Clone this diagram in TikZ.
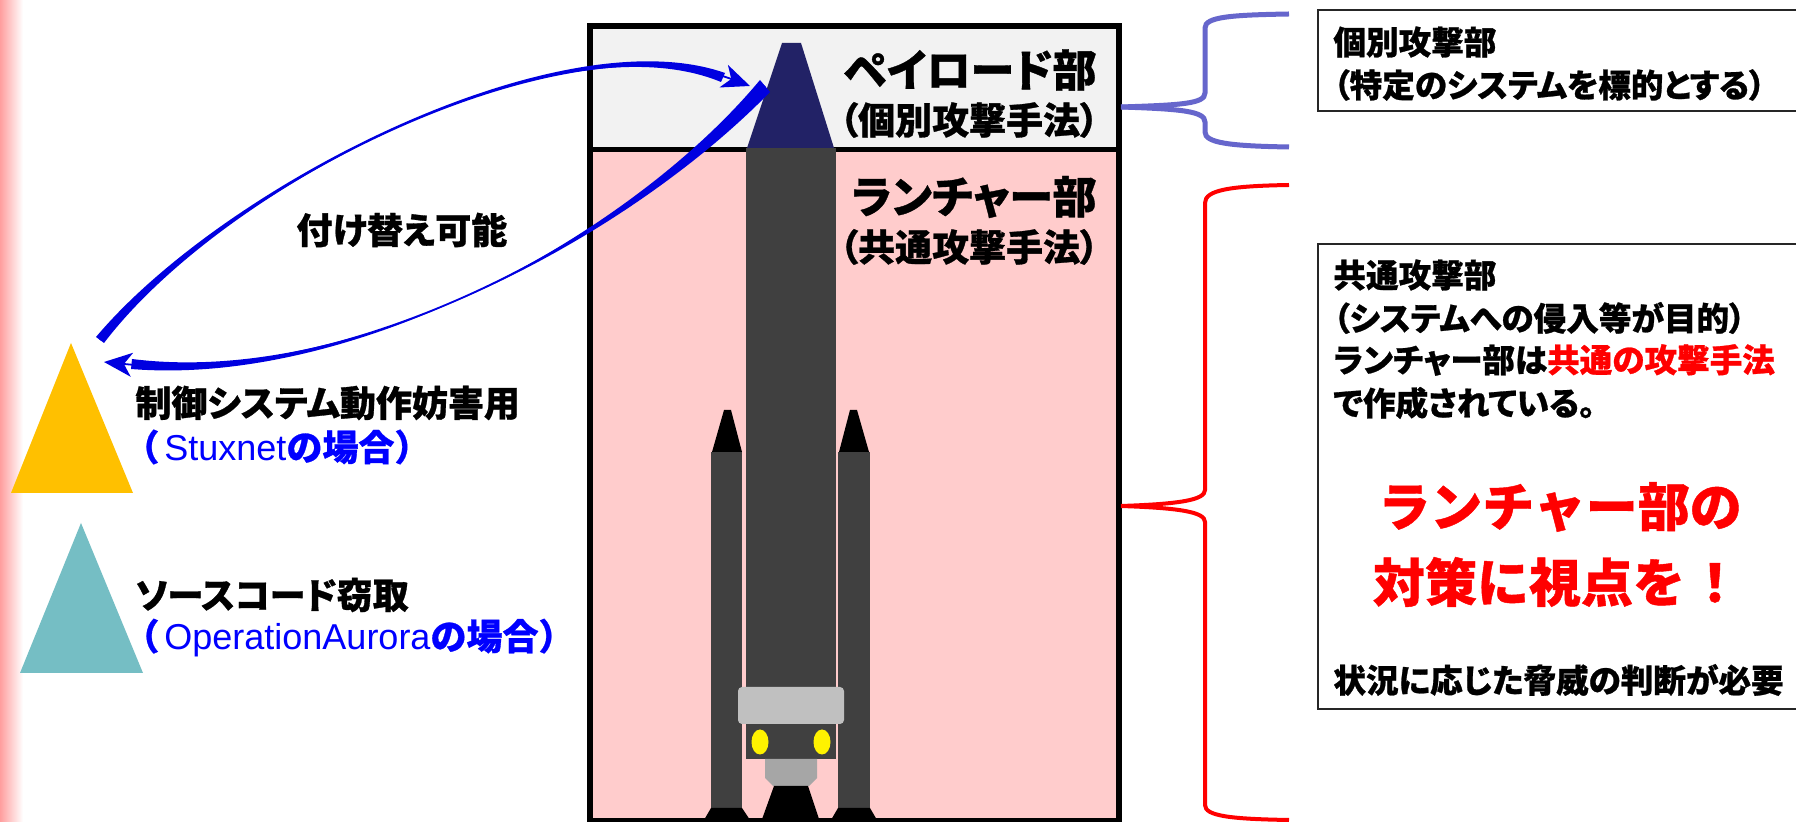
\documentclass[tikz,border=0pt]{standalone}
\usepackage{fontspec}
\usepackage{xcolor}
\setmainfont{Liberation Sans}
\newfontfamily\jp{Noto Sans CJK JP}[RawFeature=+palt, BoldFeatures={FakeBold=0.8}]
\newfontfamily\jpw{Noto Sans CJK JP}[BoldFeatures={FakeBold=0.8}]
\newfontfamily\lat{Liberation Sans}
\usetikzlibrary{arrows.meta}

\definecolor{payfill}{HTML}{F2F2F2}
\definecolor{launchfill}{HTML}{FFCCCC}
\definecolor{conenavy}{HTML}{222266}
\definecolor{bodygray}{HTML}{404040}
\definecolor{bandgray}{HTML}{C0C0C0}
\definecolor{nozzlegray}{HTML}{A6A6A6}
\definecolor{stuxgold}{HTML}{FFC000}
\definecolor{auroteal}{HTML}{75BEC4}
\definecolor{braceblue}{HTML}{6666CC}
\definecolor{edgepink}{HTML}{FF9E9E}
\definecolor{swapblue}{HTML}{0000E0}

\tikzset{
	jptext/.style={inner sep=0pt, font=\jp\bfseries\fontsize{18pt}{22pt}\selectfont},
	parttitle/.style={inner sep=0pt, anchor=east, font=\jp\bfseries\fontsize{22pt}{26pt}\selectfont},
	partsub/.style={inner sep=0pt, anchor=east, font=\jp\bfseries\fontsize{18.5pt}{22pt}\selectfont},
	notetext/.style={inner sep=0pt, anchor=west, font=\jp\bfseries\fontsize{16.3pt}{20pt}\selectfont},
	bigred/.style={inner sep=0pt, text=red, font=\jpw\bfseries\fontsize{26pt}{30pt}\selectfont},
	notebox/.style={draw=black!85, line width=0.8pt, fill=white, inner sep=0pt, anchor=north west},
	swaparrow/.style={draw=swapblue, line width=0.9pt, -{Stealth[length=14pt, width=12pt, inset=4pt]}},
}

\begin{document}
\begin{tikzpicture}[x=0.5pt,y=-0.5pt]
	\useasboundingbox (0,0) rectangle (1796,822);
	\fill[white] (0,0) rectangle (1796,822);
	\shade[left color=edgepink, right color=white] (0,0) rectangle (23,822);

	\fill[payfill] (590,26) rectangle (1119,150);
	\fill[launchfill] (590,150) rectangle (1119,822);
	\draw[line width=3pt] (590,26) rectangle (1119,821);
	\draw[line width=2.5pt] (590,150) -- (1119,150);

	\fill[bodygray] (711,452) rectangle (742,808);
	\fill[black] (712,452) -- (724,410) -- (731,410) -- (742,452) -- cycle;
	\fill[black] (711,808) -- (742,808) -- (750,820) -- (704,820) -- cycle;
	\fill[bodygray] (838,452) rectangle (870,808);
	\fill[black] (839,452) -- (850,410) -- (857,410) -- (869,452) -- cycle;
	\fill[black] (838,808) -- (870,808) -- (877,820) -- (831,820) -- cycle;

	\fill[bodygray] (746,148) rectangle (836,759);
	\fill[conenavy] (747,148) -- (782,43) -- (801,43) -- (834,148) -- cycle;
	\fill[bandgray, rounded corners=2pt] (738,687) rectangle (844,724);
	\fill[yellow] (760,742) ellipse [x radius=4.25pt, y radius=6.25pt];
	\fill[yellow] (822,742) ellipse [x radius=4.25pt, y radius=6.25pt];
	\fill[nozzlegray] (765,759) -- (817,759) -- (817,778) -- (809,786) -- (773,786) -- (765,778) -- cycle;
	\fill[black] (774,786) -- (808,786) -- (820,822) -- (761,822) -- cycle;

	\node[parttitle] (payload) at (1097,70) {ペイロード部};
	\node[partsub] (payloadsub) at (1099,120) {（個別攻撃手法）};
	\node[parttitle] (launcher) at (1097,197) {ランチャー部};
	\node[partsub] (launchersub) at (1099,247) {（共通攻撃手法）};

	\fill[stuxgold] (11,493) -- (71,343) -- (133,493) -- cycle;
	\fill[auroteal] (20,673) -- (81,523) -- (143,673) -- cycle;

	\node[jptext, anchor=west] (stuxname) at (135,403) {制御システム動作妨害用};
	\node[jptext, anchor=west, text=blue] (stuxcase) at (123,447) {\jpw（\hspace{2.5pt}{\lat\mdseries Stuxnet}の場合）};
	\node[jptext, anchor=west] (auroname) at (135,595) {ソースコード窃取};
	\node[jptext, anchor=west, text=blue] (aurocase) at (123,638) {\jpw（\hspace{2.5pt}{\lat\mdseries OperationAurora}の場合）};
	\node[jptext, anchor=west] (swap) at (296,230) {付け替え可能};

	\coordinate (stuxtop) at (100,340);
	\coordinate (conein) at (750,86);
	\coordinate (coneout) at (765,86);
	\coordinate (stuxin) at (104,362);
	\draw[swaparrow] (stuxtop) .. controls (225,184) and (560,15) .. (conein);
	\fill[swapblue] (104,343) .. controls (225,184) and (560,15) .. (721,82) -- (725,73) .. controls (560,15) and (225,184) .. (96,337) -- cycle;
	\draw[swaparrow] (coneout) .. controls (631,235) and (354,387) .. (stuxin);
	\fill[swapblue] (770,92) .. controls (631,235) and (354,387) .. (132,359) -- (131,369) .. controls (354,387) and (631,235) .. (760,80) -- cycle;

	\draw[braceblue, line width=2.5pt] (1121,107) .. controls (1180,105) and (1205,104) .. (1205,93) -- (1205,28) .. controls (1205,17) and (1230,15) .. (1289,14);
	\draw[braceblue, line width=2.5pt] (1121,107) .. controls (1180,109) and (1205,111) .. (1205,122) -- (1205,132) .. controls (1205,143) and (1230,146) .. (1289,147);
	\draw[red, line width=2pt] (1121,506) .. controls (1180,504) and (1205,500) .. (1205,490) -- (1205,203) .. controls (1205,190) and (1230,186) .. (1289,185);
	\draw[red, line width=2pt] (1121,506) .. controls (1180,508) and (1205,512) .. (1205,522) -- (1205,805) .. controls (1205,816) and (1230,819) .. (1289,820);

	\node[notebox, minimum width=246.5pt, minimum height=50.5pt] (indivnote) at (1317,9) {};
	\node[notetext] (indivhead) at (1333,42) {個別攻撃部};
	\node[notetext] (indivbody) at (1333,85) {（特定のシステムを標的とする）};

	\node[notebox, minimum width=246.5pt, minimum height=232.5pt] (commonnote) at (1317,243) {};
	\node[notetext] (commonhead) at (1333,275) {共通攻撃部};
	\node[notetext] (commonaim) at (1333,318) {（システムへの侵入等が目的）};
	\node[notetext] (commonuse) at (1333,360) {ランチャー部は{\color{red}共通の攻撃手法}};
	\node[notetext] (commonmade) at (1333,403) {で作成されている。};
	\node[bigred] (focus1) at (1560,507) {ランチャー部の};
	\node[bigred] (focus2) at (1557,582) {対策に視点を\hspace{2pt}！};
	\node[notetext] (judge) at (1333,680) {状況に応じた脅威の判断が必要};
\end{tikzpicture}
\end{document}
